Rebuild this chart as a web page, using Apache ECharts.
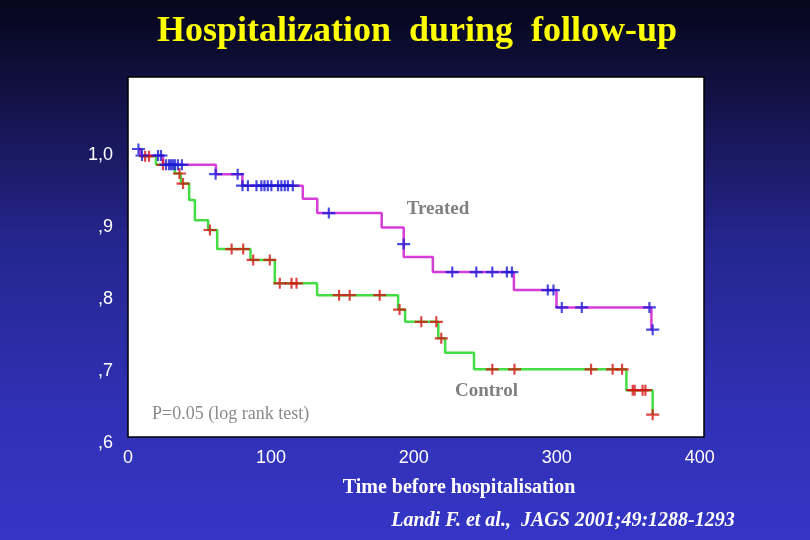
<!DOCTYPE html>
<html>
<head>
<meta charset="utf-8">
<script src="https://cdn.jsdelivr.net/npm/echarts@6/dist/echarts.min.js"></script>
<style>
html,body{margin:0;padding:0;background:#1a1a60;}
#chart{width:810px;height:540px;}
</style>
</head>
<body>
<div id="chart"></div>
<script>
// ---- data ----
const treatedTime = [7.3, 8.7, 24.5, 61.5, 80, 122.3, 132.4, 177.5, 192.9, 213.3, 270, 299.8, 366.2, 367.1];
const treatedSurv = [1.0, 0.991, 0.978, 0.965, 0.949, 0.931, 0.911, 0.891, 0.850, 0.829, 0.804, 0.780, 0.749, 0.749];

const controlTime = [7.3, 9, 19.6, 32.8, 37, 42.8, 46.8, 56.1, 62.4, 85.7, 102.7, 132.3, 189, 193.9, 217.1, 221.9, 242.1, 348.7, 367.1];
const controlSurv = [1.0, 0.990, 0.978, 0.966, 0.952, 0.929, 0.901, 0.8875, 0.861, 0.846, 0.8135, 0.797, 0.777, 0.760, 0.737, 0.717, 0.694, 0.665, 0.631];

const treatedCensTime = [7.3, 9.8, 21, 23.1, 26.6, 28.7, 30.0, 31.4, 32.8, 34.9, 37.7, 61.3, 76.7, 80.1, 83.9, 89.9, 93.3, 95.5, 97.8, 100.3, 105, 107.3, 109.7, 111.9, 115.3, 140.5, 192.9, 226.9, 243.7, 254.9, 265.1, 268.6, 293.7, 297.7, 303.5, 317.5, 364.8, 367.1];
const treatedCensSurv = [1.0, 0.991, 0.991, 0.991, 0.978, 0.978, 0.978, 0.978, 0.978, 0.978, 0.978, 0.965, 0.965, 0.949, 0.949, 0.949, 0.949, 0.949, 0.949, 0.949, 0.949, 0.949, 0.949, 0.949, 0.949, 0.911, 0.868, 0.829, 0.829, 0.829, 0.829, 0.829, 0.804, 0.804, 0.780, 0.780, 0.780, 0.749];

const controlCensTime = [12, 14.7, 24.5, 36, 38.5, 57.3, 72.5, 80.6, 87.6, 99.2, 106.2, 114.4, 117.9, 147.7, 155.1, 176.1, 190, 205.2, 215.7, 219.2, 254.9, 270.4, 324, 339.1, 345.7, 353.1, 354.5, 360, 362, 367.1];
const controlCensSurv = [0.990, 0.990, 0.978, 0.966, 0.952, 0.8875, 0.861, 0.861, 0.846, 0.846, 0.8135, 0.8135, 0.8135, 0.797, 0.797, 0.797, 0.777, 0.760, 0.760, 0.737, 0.694, 0.694, 0.694, 0.694, 0.694, 0.665, 0.665, 0.665, 0.665, 0.631];

const xTickValues = [0, 100, 200, 300, 400];
const xTickLabels = ['0', '100', '200', '300', '400'];
const yTickValues = [0.6, 0.7, 0.8, 0.9, 1.0];
const yTickLabels = [',6', ',7', ',8', ',9', '1,0'];

const titleText = 'Hospitalization  during  follow-up';
const xAxisTitle = 'Time before hospitalisation';
const treatedLabel = 'Treated';
const controlLabel = 'Control';
const pValueText = 'P=0.05 (log rank test)';
const citationText = 'Landi F. et al.,  JAGS 2001;49:1288-1293';

// ---- build ----
const zip = (a, b) => a.map((v, i) => [v, b[i]]);
const crossPath = 'path://M0,4L12,4L12,6L0,6Z M5,0L7,0L7,10L5,10Z';

const chart = echarts.init(document.getElementById('chart'), null, {renderer: 'canvas'});
const option = {
  animation: false,
  backgroundColor: {
    type: 'linear', x: 0, y: 0, x2: 0, y2: 1,
    colorStops: [
      {offset: 0, color: '#06061c'},
      {offset: 0.15, color: '#10103e'},
      {offset: 0.45, color: '#25258f'},
      {offset: 0.75, color: '#3030b4'},
      {offset: 1, color: '#3535c6'}
    ]
  },
  grid: {
    left: 128, right: 106, top: 77, bottom: 103,
    show: true, backgroundColor: '#ffffff', borderColor: '#000000', borderWidth: 1.5
  },
  xAxis: {
    type: 'value', min: 0, max: 403, interval: 100,
    axisLine: {show: false}, axisTick: {show: false}, splitLine: {show: false},
    axisLabel: {
      color: '#ffffff', fontSize: 18, fontFamily: 'Liberation Sans', margin: 12,
      formatter: v => { const i = xTickValues.indexOf(Math.round(v)); return (i >= 0 && Math.abs(v - xTickValues[i]) < 1e-6) ? xTickLabels[i] : ''; }
    }
  },
  yAxis: {
    type: 'value', min: 0.6, max: 1.1, interval: 0.1,
    axisLine: {show: false}, axisTick: {show: false}, splitLine: {show: false},
    axisLabel: {
      color: '#ffffff', fontSize: 18, fontFamily: 'Liberation Sans', margin: 15,
      verticalAlign: 'top', lineHeight: 12,
      formatter: v => { for (let i = 0; i < yTickValues.length; i++) { if (Math.abs(v - yTickValues[i]) < 1e-6) return yTickLabels[i]; } return ''; }
    }
  },
  series: [
    {
      name: controlLabel, type: 'line', step: 'end', symbol: 'none', z: 2,
      lineStyle: {color: '#44dd44', width: 2.5},
      data: zip(controlTime, controlSurv)
    },
    {
      name: treatedLabel, type: 'line', step: 'end', symbol: 'none', z: 3,
      lineStyle: {color: '#d63cd6', width: 2.5},
      data: zip(treatedTime, treatedSurv)
    },
    {
      name: controlLabel + ' censored', type: 'scatter', symbol: crossPath, symbolSize: [13, 11], z: 4,
      itemStyle: {color: '#d41414'},
      data: zip(controlCensTime, controlCensSurv)
    },
    {
      name: treatedLabel + ' censored', type: 'scatter', symbol: crossPath, symbolSize: [13, 11], z: 5,
      itemStyle: {color: '#1a1ad6'},
      data: zip(treatedCensTime, treatedCensSurv)
    }
  ],
  graphic: [
    {type: 'text', x: 417, y: 31.5, z: 10, style: {text: titleText, fill: '#ffff00', font: 'bold 36px "Liberation Serif"', textAlign: 'center', textVerticalAlign: 'middle'}},
    {type: 'text', x: 438, y: 209, z: 10, style: {text: treatedLabel, fill: '#808080', font: 'bold 19px "Liberation Serif"', textAlign: 'center', textVerticalAlign: 'middle'}},
    {type: 'text', x: 486.5, y: 391.5, z: 10, style: {text: controlLabel, fill: '#808080', font: 'bold 19px "Liberation Serif"', textAlign: 'center', textVerticalAlign: 'middle'}},
    {type: 'text', x: 152, y: 414.5, z: 10, style: {text: pValueText, fill: '#8a8a8a', font: '18px "Liberation Serif"', textAlign: 'left', textVerticalAlign: 'middle'}},
    {type: 'text', x: 459, y: 487.5, z: 10, style: {text: xAxisTitle, fill: '#ffffff', font: 'bold 20px "Liberation Serif"', textAlign: 'center', textVerticalAlign: 'middle'}},
    {type: 'text', x: 563, y: 520.5, z: 10, style: {text: citationText, fill: '#ffffff', font: 'italic bold 20px "Liberation Serif"', textAlign: 'center', textVerticalAlign: 'middle'}}
  ]
};
chart.setOption(option);
</script>
</body>
</html>
